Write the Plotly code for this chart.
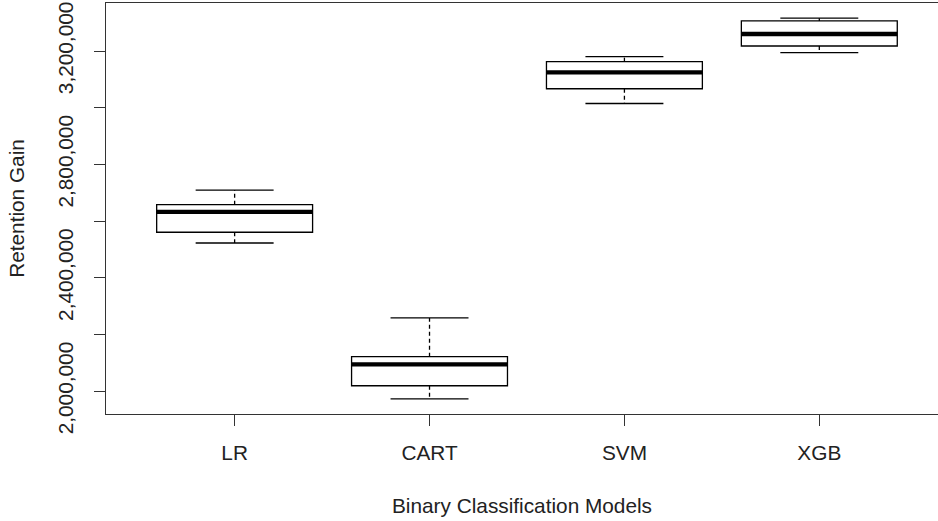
import plotly.graph_objects as go

categories = ["LR", "CART", "SVM", "XGB"]
lower_whisker = [2522800, 1973100, 3014900, 3194400]
q1_values = [2560700, 2019100, 3066900, 3217800]
median_values = [2632600, 2094500, 3124600, 3260200]
q3_values = [2658000, 2121800, 3162500, 3306300]
upper_whisker = [2709400, 2258400, 3180200, 3315800]

y_tick_vals = [2000000, 2200000, 2400000, 2600000, 2800000, 3000000, 3200000]
y_tick_text = ["2,000,000", "", "2,400,000", "", "2,800,000", "", "3,200,000"]

positions = list(range(1, len(categories) + 1))
box_half = 0.4
cap_half = 0.2
FONT = "Liberation Sans, Arial, sans-serif"
FS = 20.8
INK = "#000000"

fig = go.Figure()

for i, p in enumerate(positions):
    # whiskers (dashed)
    fig.add_trace(go.Scatter(
        x=[p, p, None, p, p],
        y=[q3_values[i], upper_whisker[i], None, q1_values[i], lower_whisker[i]],
        mode="lines", line=dict(color=INK, width=1.3, dash="4px,3px"),
        showlegend=False, hoverinfo="skip"))
    # caps
    fig.add_trace(go.Scatter(
        x=[p - cap_half, p + cap_half, None, p - cap_half, p + cap_half],
        y=[upper_whisker[i], upper_whisker[i], None, lower_whisker[i], lower_whisker[i]],
        mode="lines", line=dict(color=INK, width=1.3),
        showlegend=False, hoverinfo="skip"))
    # box
    fig.add_trace(go.Box(
        x=[p], q1=[q1_values[i]], median=[median_values[i]], q3=[q3_values[i]],
        lowerfence=[q1_values[i]], upperfence=[q3_values[i]],
        width=2 * box_half, whiskerwidth=0, boxpoints=False,
        fillcolor="white", line=dict(color=INK, width=1.3),
        name=categories[i], showlegend=False))
    # thick median
    fig.add_trace(go.Scatter(
        x=[p - box_half, p + box_half],
        y=[median_values[i], median_values[i]],
        mode="lines", line=dict(color=INK, width=4.3),
        showlegend=False, hoverinfo="skip"))

fig.update_layout(
    width=938, height=521,
    margin=dict(l=106, r=0, t=3, b=107),
    paper_bgcolor="white", plot_bgcolor="white",
    font=dict(family=FONT, size=FS, color="#222222"),
    showlegend=False,
)
fig.update_xaxes(
    range=[0.34, 4.609], tickmode="array", tickvals=positions, ticktext=categories,
    showgrid=False, zeroline=False, showline=True, mirror=True,
    linecolor="#333333", linewidth=1.3,
    ticks="outside", ticklen=11, tickwidth=1.3, tickcolor="#333333",
    ticklabelstandoff=9,
    title=dict(text="Binary Classification Models", standoff=35,
               font=dict(family=FONT, size=FS)),
)
fig.update_yaxes(
    range=[1919400, 3369500], tickmode="array", tickvals=y_tick_vals, ticktext=y_tick_text,
    tickangle=-90,
    showgrid=False, zeroline=False, showline=True, mirror=False,
    linecolor="#333333", linewidth=1.3,
    ticks="outside", ticklen=11, tickwidth=1.3, tickcolor="#333333",
    ticklabelstandoff=13,
    title=dict(text="Retention Gain", standoff=23,
               font=dict(family=FONT, size=FS)),
)

fig.write_html("out.html", config={"displayModeBar": False},
               post_script="document.body.style.margin='0px';")
